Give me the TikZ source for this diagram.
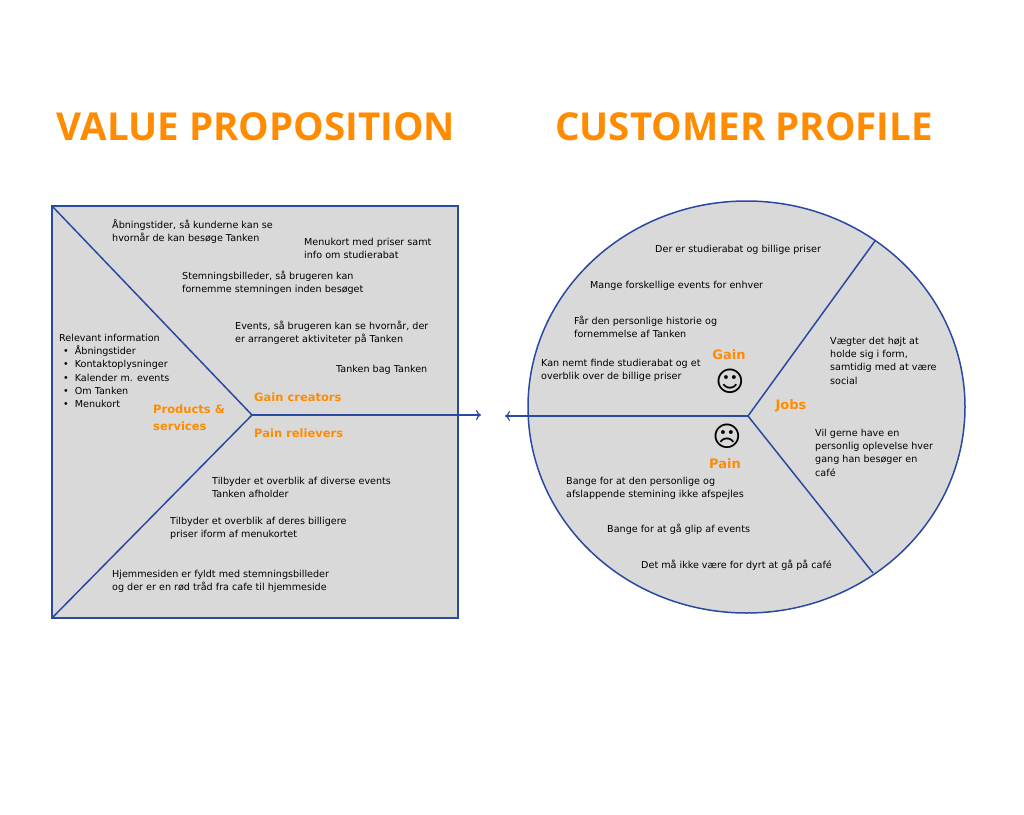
\documentclass[tikz,border=0pt]{standalone}
\usepackage{fontspec}
\usetikzlibrary{arrows.meta}
\setmainfont{DejaVu Sans}
\newfontfamily\ttlf{Open Sans}
\newfontfamily\symf{DejaVu Sans}
\definecolor{bl}{HTML}{2A49A0}
\definecolor{gr}{HTML}{D9D9D9}
\definecolor{og}{HTML}{FF8C00}
\begin{document}
\begin{tikzpicture}[x=1pt,y=-1pt,
  txt/.style={anchor=north west,align=left,font=\fontsize{9.6}{13.2}\selectfont,inner sep=0},
  lab/.style={font=\fontsize{11.5}{17}\selectfont\bfseries,text=og,inner sep=0,align=left},
  ttl/.style={font=\ttlf\fontsize{38.5}{44}\selectfont\bfseries,text=og,inner sep=0},
  ln/.style={draw=bl,line width=1.5pt},
  arr/.style={-{To[length=5pt,width=10pt,line width=1.2pt]}}]
\useasboundingbox (0,0) rectangle (1024,814);
\node[ttl] (t1) at (256,127) {VALUE PROPOSITION};
\node[ttl] (t2) at (744,127) {CUSTOMER PROFILE};
% square
\path[fill=gr] (52,206) rectangle (458,618);
\coordinate (tl) at (52,206); \coordinate (bll) at (52,618);
\coordinate (c1) at (252,415); \coordinate (r1) at (481,415);
\draw[ln] (52,206) rectangle (458,618);
\draw[ln] (tl) -- (c1) -- (bll);
\draw[ln,arr] (c1) -- (r1);
% circle
\coordinate (ce) at (746.5,407);
\path[fill=gr] (ce) ellipse [x radius=218.5,y radius=206];
\draw[ln] (ce) ellipse [x radius=218.5,y radius=206];
\coordinate (cc) at (748,416);
\coordinate (l2) at (505,416);
\coordinate (ur) at (875,241); \coordinate (lr) at (873,573);
\draw[ln,arr] (cc) -- (l2);
\draw[ln] (cc) -- (ur); \draw[ln] (cc) -- (lr);
% left texts
\node[txt] (a1) at (112,219) {Åbningstider, så kunderne kan se\\hvornår de kan besøge Tanken};
\node[txt] (a2) at (304,238) {Menukort med priser samt\\info om studierabat};
\node[txt] (a3) at (182,271) {Stemningsbilleder, så brugeren kan\\fornemme stemningen inden besøget};
\node[txt] (a4) at (235,321) {Events, så brugeren kan se hvornår, der\\er arrangeret aktiviteter på Tanken};
\node[txt] (a5) at (336,365) {Tanken bag Tanken};
\node[txt] (a6) at (59,334) {Relevant information\\
 \hspace*{4pt}\textbullet\hspace{6pt}Åbningstider\\
 \hspace*{4pt}\textbullet\hspace{6pt}Kontaktoplysninger\\
 \hspace*{4pt}\textbullet\hspace{6pt}Kalender m. events\\
 \hspace*{4pt}\textbullet\hspace{6pt}Om Tanken\\
 \hspace*{4pt}\textbullet\hspace{6pt}Menukort};
\node[lab,anchor=north west] (p1) at (153,405) {Products \&\\services};
\node[lab,anchor=west] (g1) at (254,397) {Gain creators};
\node[lab,anchor=west] (p2) at (254,433) {Pain relievers};
\node[txt] (a7) at (212,477) {Tilbyder et overblik af diverse events\\Tanken afholder};
\node[txt] (a8) at (170,517) {Tilbyder et overblik af deres billigere\\priser iform af menukortet};
\node[txt] (a9) at (112,570) {Hjemmesiden er fyldt med stemningsbilleder\\og der er en rød tråd fra cafe til hjemmeside};
% right texts
\node[txt] (b1) at (655,245) {Der er studierabat og billige priser};
\node[txt] (b2) at (590,281) {Mange forskellige events for enhver};
\node[txt] (b3) at (574,316) {Får den personlige historie og\\fornemmelse af Tanken};
\node[txt] (b4) at (541,359) {Kan nemt finde studierabat og et\\overblik over de billige priser};
\node[lab,font=\fontsize{13}{17}\selectfont\bfseries] (gn) at (729,355) {Gain};
\node[font=\symf\fontsize{28}{28}\selectfont,inner sep=0] (s1) at (730,381) {☺};
\node[lab,font=\fontsize{13}{17}\selectfont\bfseries] (jb) at (791,406) {Jobs};
\node[txt] (b5) at (830,337) {Vægter det højt at\\holde sig i form,\\samtidig med at være\\social};
\node[txt] (b6) at (815,429) {Vil gerne have en\\personlig oplevelse hver\\gang han besøger en\\café};
\node[font=\symf\fontsize{28}{28}\selectfont,inner sep=0] (s2) at (727,436) {☹};
\node[lab,font=\fontsize{13}{17}\selectfont\bfseries] (pn) at (725,464) {Pain};
\node[txt] (b7) at (566,477) {Bange for at den personlige og\\afslappende stemining ikke afspejles};
\node[txt] (b8) at (607,524) {Bange for at gå glip af events};
\node[txt] (b9) at (641,560) {Det må ikke være for dyrt at gå på café};
\end{tikzpicture}
\end{document}
